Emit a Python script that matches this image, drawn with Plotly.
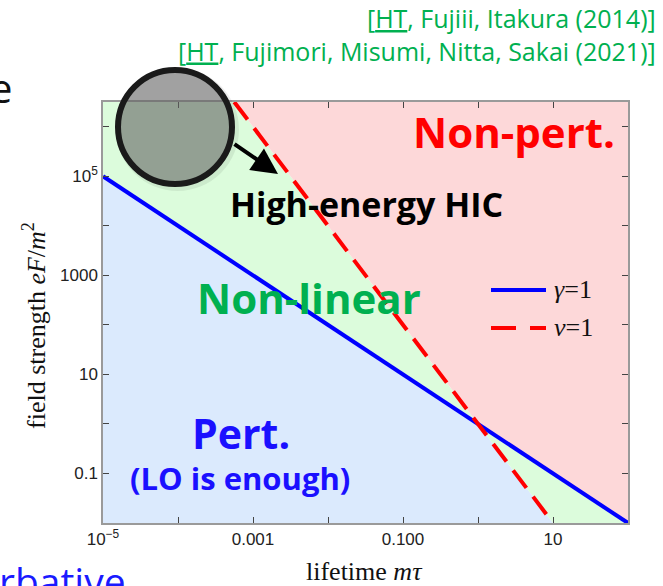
import plotly.graph_objects as go

# ---- data (log-log axes) ----
x_range_vals = [1e-5, 100]          # lifetime m*tau axis limits
y_range_vals = [1e-2, 10 ** 6.5]    # field strength eF/m^2 axis limits

# gamma = 1 boundary (solid blue)
gamma_tau = [1e-5, 100]
gamma_F = [1e5, 1e-2]

# nu = 1 boundary (dashed red)
nu_tau = [10 ** -3.25, 10]
nu_F = [10 ** 6.5, 1e-2]

# crossing point of the two boundaries
cross_tau, cross_F = 1.0, 1.0

x_tickvals = [1e-5, 1e-4, 1e-3, 1e-2, 1e-1, 1, 10, 100]
x_ticktext = ["10<sup>\u22125</sup>", "", "0.001", "", "0.100", "", "10", ""]
y_tickvals = [1e-2, 1e-1, 1, 10, 100, 1000, 1e4, 1e5, 1e6]
y_ticktext = ["", "0.1", "", "10", "", "1000", "", "10<sup>5</sup>", ""]

# ---- regions built from the boundaries ----
xl, xr = x_range_vals
yb, yt = y_range_vals
pert_x = [xl, gamma_tau[0], cross_tau, nu_tau[1], xl]
pert_y = [yb, gamma_F[0], cross_F, nu_F[1], yb]
nonlin_x = [gamma_tau[0], xl, nu_tau[0], cross_tau, nu_tau[1], gamma_tau[1], cross_tau, gamma_tau[0]]
nonlin_y = [gamma_F[0], yt, nu_F[0], cross_F, nu_F[1], gamma_F[1], cross_F, gamma_F[0]]
nonpert_x = [nu_tau[0], xr, xr, cross_tau, nu_tau[0]]
nonpert_y = [nu_F[0], yt, gamma_F[1], cross_F, nu_F[0]]

fig = go.Figure()
fig.add_trace(go.Scatter(x=pert_x, y=pert_y, fill="toself", fillcolor="#dbeafd",
                         mode="none", hoverinfo="skip"))
fig.add_trace(go.Scatter(x=nonlin_x, y=nonlin_y, fill="toself", fillcolor="#dcfcdc",
                         mode="none", hoverinfo="skip"))
fig.add_trace(go.Scatter(x=nonpert_x, y=nonpert_y, fill="toself", fillcolor="#fdd8d9",
                         mode="none", hoverinfo="skip"))
fig.add_trace(go.Scatter(x=gamma_tau, y=gamma_F, mode="lines",
                         line=dict(color="#0000ff", width=4)))
fig.add_trace(go.Scatter(x=nu_tau, y=nu_F, mode="lines",
                         line=dict(color="#ff0000", width=4, dash="22px,11px")))

axis_common = dict(type="log", showgrid=False, zeroline=False, showline=True,
                   linecolor="#9a9a9a", linewidth=1.5, mirror="ticks",
                   ticks="inside", ticklen=6, tickcolor="#444", tickwidth=1,
                   tickfont=dict(family="Liberation Sans", size=17, color="#222"))

fig.update_xaxes(range=[-5, 2], tickmode="array", tickvals=x_tickvals,
                 ticktext=x_ticktext, **axis_common)
fig.update_yaxes(range=[-2, 6.5], tickmode="array", tickvals=y_tickvals,
                 ticktext=y_ticktext, **axis_common)

L, R, T, B = 103, 35, 102, 63
W, H = 663, 586
pw, ph = W - L - R, H - T - B


def px(xp):
    return (xp - L) / pw


def py(yp):
    return (H - B - yp) / ph


shapes = []
# magnifier circle (soft shadow + lens)
cx, cy, rad = 175, 127, 57
shapes.append(dict(type="circle", xref="paper", yref="paper",
                   x0=px(cx - rad - 2), x1=px(cx + rad + 7), y0=py(cy + rad + 7), y1=py(cy - rad - 2),
                   fillcolor="rgba(0,0,0,0.07)", line=dict(width=0), layer="above"))
shapes.append(dict(type="circle", xref="paper", yref="paper",
                   x0=px(cx - rad), x1=px(cx + rad), y0=py(cy + rad), y1=py(cy - rad),
                   fillcolor="rgba(104,104,104,0.57)", line=dict(color="#1a1a1a", width=6),
                   layer="above"))
# legend samples
shapes.append(dict(type="line", xref="paper", yref="paper",
                   x0=px(491), x1=px(546), y0=py(290), y1=py(290),
                   line=dict(color="#0000ff", width=4), layer="above"))
shapes.append(dict(type="line", xref="paper", yref="paper",
                   x0=px(491), x1=px(546), y0=py(328), y1=py(328),
                   line=dict(color="#ff0000", width=4, dash="25px,14px"), layer="above"))

annotations = []


def txt(text, x, y, size, color, family="Open Sans", xanchor="center", yanchor="middle",
        angle=0, align="center"):
    annotations.append(dict(text=text, xref="paper", yref="paper", x=px(x), y=py(y),
                            xanchor=xanchor, yanchor=yanchor, showarrow=False,
                            textangle=angle, align=align,
                            font=dict(family=family, size=size, color=color)))


green = "#00b050"
txt("[<u>HT</u>, Fujiii, Itakura (2014)]<br>"
    "[<u>HT</u>, Fujimori, Misumi, Nitta, Sakai (2021)]",
    658, 35, 25, green, xanchor="right", align="right")
txt("e", 14, 88, 40, "#111", xanchor="right")
txt("rbative", -3, 580, 39, "#1a1aff", xanchor="left")

txt("<b>Non-pert.</b>", 514, 131, 42, "#ff0000")
txt("<b>High-energy HIC</b>", 366, 204, 34, "#000000")
txt("<b>Non-linear</b>", 309, 297, 42, green)
txt("<b>Pert.</b>", 241, 433, 41, "#1a10ff")
txt("<b>(LO is enough)</b>", 240, 478, 31, "#1a10ff")

txt("<i>\u03b3</i>=1", 552, 289, 26, "#111", family="Liberation Serif", xanchor="left")
txt("<i>\u03bd</i>=1", 552, 327, 26, "#111", family="Liberation Serif", xanchor="left")

txt("lifetime <i>m\u03c4</i>", 364, 571, 26, "#111", family="Liberation Serif")
txt("field strength <i>eF</i>/<i>m</i><sup>2</sup>", 34, 326, 26, "#111",
    family="Liberation Serif", angle=-90)

# arrow from magnifier to region
annotations.append(dict(xref="paper", yref="paper", x=px(278), y=py(174),
                        ax=233 - 278, ay=143 - 174, showarrow=True, arrowhead=2,
                        arrowsize=1.3, arrowwidth=4, arrowcolor="#000", standoff=0,
                        text=""))

fig.update_layout(width=W, height=H, margin=dict(l=L, r=R, t=T, b=B),
                  paper_bgcolor="white", plot_bgcolor="white", showlegend=False,
                  shapes=shapes, annotations=annotations)

fig.write_html("out.html", config={"displayModeBar": False},
               post_script="document.body.style.margin='0';")
